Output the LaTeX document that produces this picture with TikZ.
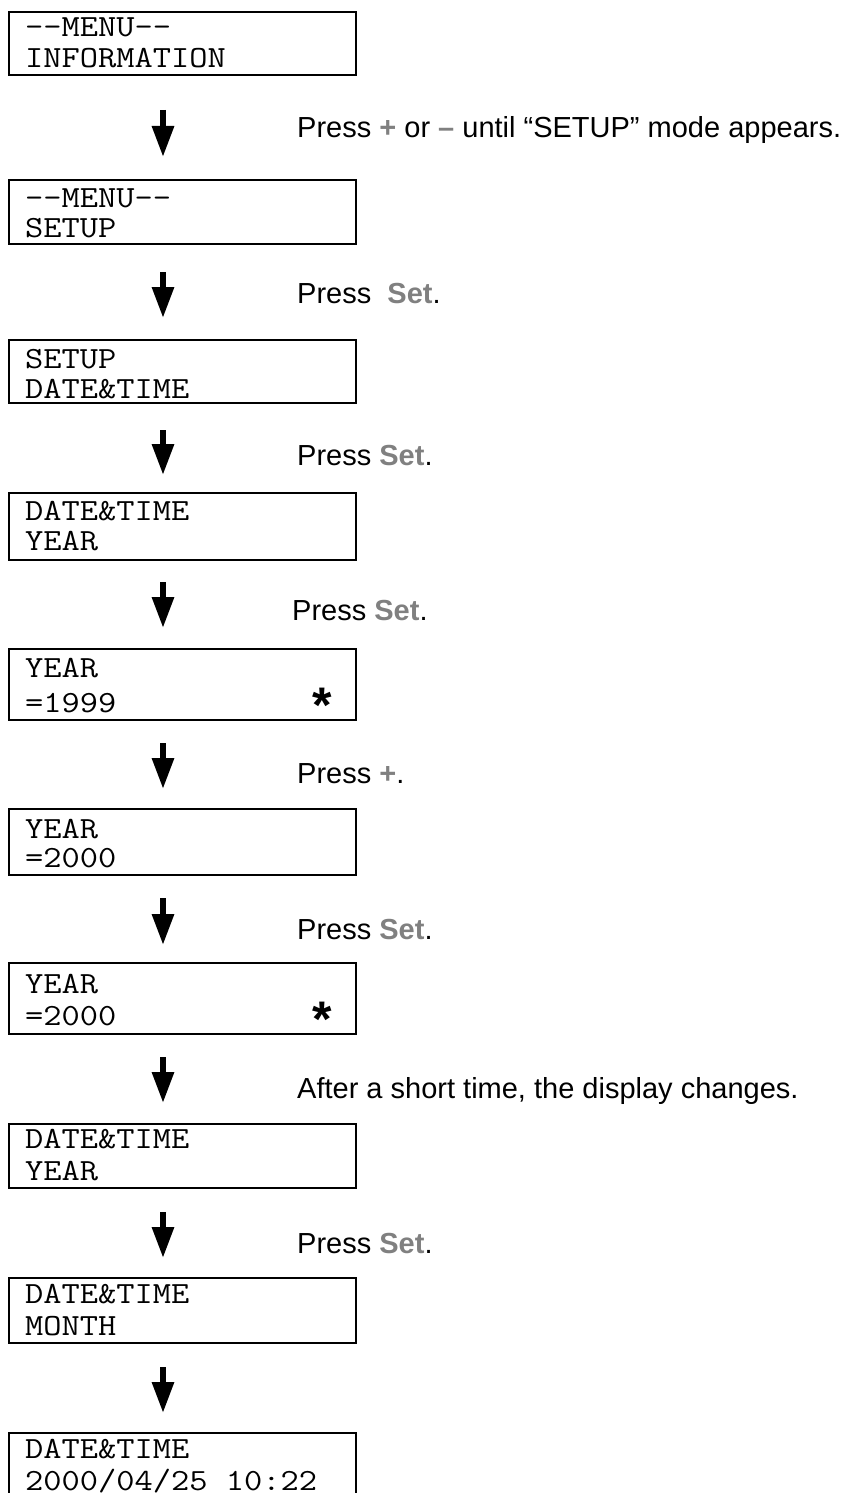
\documentclass[tikz,border=0pt]{standalone}
\usepackage{fontspec}
\setmainfont{Liberation Sans}
\newfontfamily\lcdfont{Latin Modern Mono}[FakeStretch=1.15]
\usetikzlibrary{arrows.meta}
\definecolor{keyGray}{HTML}{808080}
\newcommand{\keyname}[1]{\textcolor{keyGray}{\textbf{#1}}}
\tikzset{
  lcd/.style={draw, line width=2pt, rectangle, minimum width=347pt,
              inner sep=0pt, outer sep=0pt, anchor=north west},
  lcdline/.style={anchor=base west, inner sep=0pt,
                  font=\fontsize{30.8}{30}\lcdfont},
  lcdmark/.style={anchor=base, inner sep=0pt,
                  font=\fontsize{50}{50}\bfseries},
  hint/.style={anchor=base west, inner sep=0pt,
               font=\fontsize{29}{34}\selectfont},
  stepflow/.style={line width=6pt, -{Triangle[length=31pt, width=21pt]},
                   shorten <=23pt, shorten >=20pt},
}

\begin{document}
\begin{tikzpicture}[x=1pt, y=-1pt]
    \useasboundingbox (0,0) rectangle (854,1493);
    \coordinate (ax) at (163,0);
    % display boxes
    \node[lcd, minimum height=63pt] (b1)  at (9,12)   {};
    \node[lcd, minimum height=64pt] (b2)  at (9,180)  {};
    \node[lcd, minimum height=63pt] (b3)  at (9,340)  {};
    \node[lcd, minimum height=67pt] (b4)  at (9,493)  {};
    \node[lcd, minimum height=71pt] (b5)  at (9,649)  {};
    \node[lcd, minimum height=66pt] (b6)  at (9,809)  {};
    \node[lcd, minimum height=71pt] (b7)  at (9,963)  {};
    \node[lcd, minimum height=64pt] (b8)  at (9,1124) {};
    \node[lcd, minimum height=65pt] (b9)  at (9,1278) {};
    \node[lcd, minimum height=64pt] (b10) at (9,1433) {};
    % display texts
    \node[lcdline] (t1a)  at (25,37)   {-{}-MENU-{}-};
    \node[lcdline] (t1b)  at (25,68)   {INFORMATION};
    \node[lcdline] (t2a)  at (25,207)  {-{}-MENU-{}-};
    \node[lcdline] (t2b)  at (25,237)  {SETUP};
    \node[lcdline] (t3a)  at (25,368)  {SETUP};
    \node[lcdline] (t3b)  at (25,398)  {DATE\&TIME};
    \node[lcdline] (t4a)  at (25,520)  {DATE\&TIME};
    \node[lcdline] (t4b)  at (25,550)  {YEAR};
    \node[lcdline] (t5a)  at (25,677)  {YEAR};
    \node[lcdline] (t5b)  at (25,712)  {=1999};
    \node[lcdline] (t6a)  at (25,838)  {YEAR};
    \node[lcdline] (t6b)  at (25,867)  {=2000};
    \node[lcdline] (t7a)  at (25,993)  {YEAR};
    \node[lcdline] (t7b)  at (25,1025) {=2000};
    \node[lcdline] (t8a)  at (25,1148) {DATE\&TIME};
    \node[lcdline] (t8b)  at (25,1180) {YEAR};
    \node[lcdline] (t9a)  at (25,1303) {DATE\&TIME};
    \node[lcdline] (t9b)  at (25,1335) {MONTH};
    \node[lcdline] (t10a) at (25,1458) {DATE\&TIME};
    \node[lcdline] (t10b) at (25,1490) {2000/04/25 10:22};
    \node[lcdmark] (m5) at (322,722)  {*};
    \node[lcdmark] (m7) at (322,1036) {*};
    % steps
    \draw[stepflow, shorten <=35pt, shorten >=23pt] (b1.south -| ax) -- (b2.north -| ax);
    \draw[stepflow, shorten <=28pt, shorten >=22pt] (b2.south -| ax) -- (b3.north -| ax);
    \draw[stepflow, shorten <=27pt, shorten >=18pt] (b3.south -| ax) -- (b4.north -| ax);
    \draw[stepflow, shorten <=22pt, shorten >=21pt] (b4.south -| ax) -- (b5.north -| ax);
    \draw[stepflow] (b5.south -| ax) -- (b6.north -| ax);
    \draw[stepflow, shorten >=18pt] (b6.south -| ax) -- (b7.north -| ax);
    \draw[stepflow, shorten >=21pt] (b7.south -| ax) -- (b8.north -| ax);
    \draw[stepflow, shorten <=24pt] (b8.south -| ax) -- (b9.north -| ax);
    \draw[stepflow, shorten <=24pt] (b9.south -| ax) -- (b10.north -| ax);
    % instructions
    \node[hint] (h1) at (297,138)  {Press \keyname{+} or \keyname{–} until “SETUP” mode appears.};
    \node[hint] (h2) at (297,303)  {Press\ \ \keyname{Set}.};
    \node[hint] (h3) at (297,465)  {Press \keyname{Set}.};
    \node[hint] (h4) at (292,620)  {Press \keyname{Set}.};
    \node[hint] (h5) at (297,783)  {Press \keyname{+}.};
    \node[hint] (h6) at (297,939)  {Press \keyname{Set}.};
    \node[hint] (h7) at (297,1098) {After a short time, the display changes.};
    \node[hint] (h8) at (297,1253) {Press \keyname{Set}.};
\end{tikzpicture}
\end{document}
